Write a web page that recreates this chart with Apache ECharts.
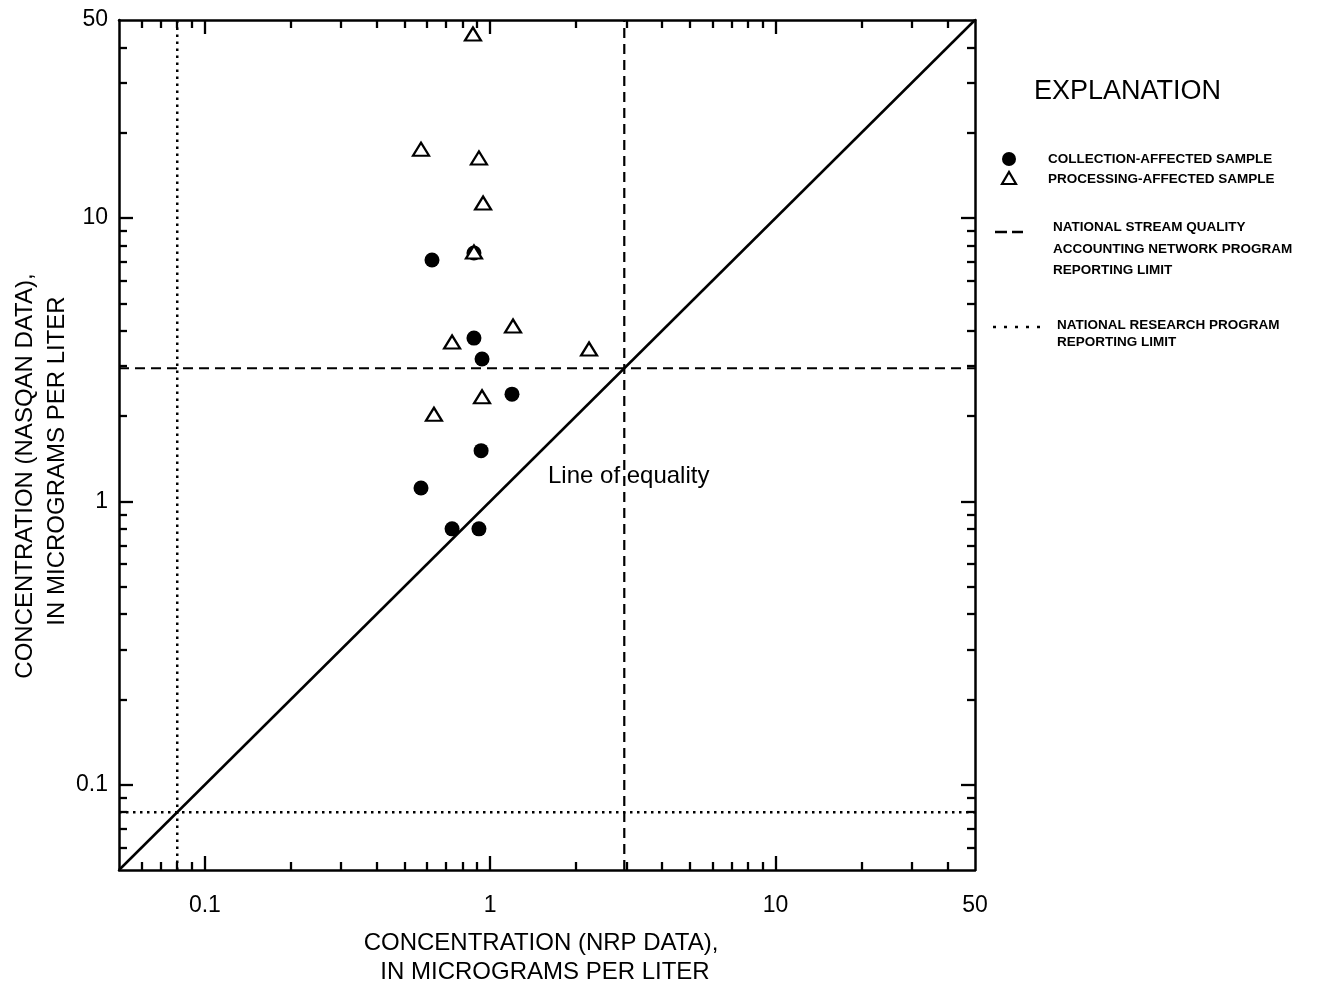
<!DOCTYPE html>
<html><head><meta charset="utf-8">
<script src="https://cdn.jsdelivr.net/npm/echarts@6/dist/echarts.min.js"></script>
<style>html,body{margin:0;padding:0;background:#fff}#c{width:1318px;height:991px}</style>
</head><body><div id="c"></div>
<script>
// Collection-affected samples (filled circles): NRP value (x), NASQAN value (y)
const collectionX = [0.625, 0.877, 0.877, 0.936, 1.192, 0.929, 0.572, 0.735, 0.913];
const collectionY = [7.11, 7.53, 3.77, 3.18, 2.39, 1.51, 1.115, 0.80, 0.80];
// Processing-affected samples (open triangles)
const processingX = [0.870, 0.572, 0.913, 0.944, 0.877, 1.202, 0.735, 2.22, 0.936, 0.635];
const processingY = [44.6, 17.5, 16.3, 11.3, 7.59, 4.16, 3.65, 3.45, 2.34, 2.03];
// Reporting limits
const nasqanLimit = 2.95;
const nrpLimit = 0.08;
// Axis range and ticks
const axisMin = 0.05;
const axisMax = 50;
const majorTicks = [0.1, 1, 10];
const minorTicks = [0.06, 0.07, 0.08, 0.09, 0.2, 0.3, 0.4, 0.5, 0.6, 0.7, 0.8, 0.9, 2, 3, 4, 5, 6, 7, 8, 9, 20, 30, 40];
const tickLabels = [0.1, 1, 10, 50];

const FONT = '"Liberation Sans", Arial, Helvetica, sans-serif';
const zip = (xs, ys) => xs.map((x, i) => [x, ys[i]]);

function mkAxis(pos, major, showLabel, isY) {
  return {
    type: 'log', logBase: 10, min: axisMin, max: axisMax, position: pos, gridIndex: 0,
    axisLine: { show: major, onZero: false, lineStyle: { color: '#000', width: 2.5 } },
    axisTick: { show: true, inside: true, length: major ? 14 : 8,
      customValues: major ? majorTicks : minorTicks,
      lineStyle: { color: '#000', width: 2.3 } },
    axisLabel: { show: showLabel, customValues: tickLabels,
      formatter: v => String(+Number(v).toPrecision(4)),
      fontSize: 23, fontFamily: FONT, color: '#000', margin: isY ? 11 : 24 },
    splitLine: { show: false }, minorTick: { show: false }
  };
}

const chart = echarts.init(document.getElementById('c'), null, { renderer: 'canvas' });
const option = {
  backgroundColor: '#fff',
  animation: false,
  grid: { left: 119, top: 20, width: 856, height: 850, containLabel: false },
  xAxis: [
    mkAxis('bottom', true, true, false),
    mkAxis('bottom', false, false, false),
    mkAxis('top', true, false, false),
    mkAxis('top', false, false, false)
  ],
  yAxis: [
    mkAxis('left', true, true, true),
    mkAxis('left', false, false, true),
    mkAxis('right', true, false, true),
    mkAxis('right', false, false, true)
  ],
  series: [
    { type: 'line', name: 'Line of equality', data: [[axisMin, axisMin], [axisMax, axisMax]],
      showSymbol: false, symbol: 'none', lineStyle: { color: '#000', width: 2.5 }, z: 2 },
    { type: 'line', name: 'NASQAN limit x', data: [[nasqanLimit, axisMin], [nasqanLimit, axisMax]],
      symbol: 'none', lineStyle: { color: '#000', width: 2.2, type: [10, 6] }, z: 1 },
    { type: 'line', name: 'NASQAN limit y', data: [[axisMin, nasqanLimit], [axisMax, nasqanLimit]],
      symbol: 'none', lineStyle: { color: '#000', width: 2.2, type: [10, 6] }, z: 1 },
    { type: 'line', name: 'NRP limit x', data: [[nrpLimit, axisMin], [nrpLimit, axisMax]],
      symbol: 'none', lineStyle: { color: '#000', width: 2.5, type: [2.5, 4.5] }, z: 1 },
    { type: 'line', name: 'NRP limit y', data: [[axisMin, nrpLimit], [axisMax, nrpLimit]],
      symbol: 'none', lineStyle: { color: '#000', width: 2.5, type: [2.5, 4.5] }, z: 1 },
    { type: 'scatter', name: 'COLLECTION-AFFECTED SAMPLE', data: zip(collectionX, collectionY),
      symbol: 'circle', symbolSize: 15, itemStyle: { color: '#000', opacity: 1 }, z: 3 },
    { type: 'scatter', name: 'PROCESSING-AFFECTED SAMPLE', data: zip(processingX, processingY),
      symbol: 'triangle', symbolSize: [16, 13],
      itemStyle: { color: '#fff', borderColor: '#000', borderWidth: 2.2, opacity: 1 }, z: 4 }
  ],
  graphic: [
    // axis titles
    { type: 'text', x: 541, y: 943, style: { text: 'CONCENTRATION (NRP DATA),', font: '24px ' + FONT, fill: '#000', align: 'center', verticalAlign: 'middle' } },
    { type: 'text', x: 545, y: 972, style: { text: 'IN MICROGRAMS PER LITER', font: '24px ' + FONT, fill: '#000', align: 'center', verticalAlign: 'middle' } },
    { type: 'text', x: 25, y: 476, rotation: Math.PI / 2, style: { text: 'CONCENTRATION (NASQAN DATA),', font: '24px ' + FONT, fill: '#000', align: 'center', verticalAlign: 'middle' } },
    { type: 'text', x: 57, y: 461, rotation: Math.PI / 2, style: { text: 'IN MICROGRAMS PER LITER', font: '24px ' + FONT, fill: '#000', align: 'center', verticalAlign: 'middle' } },
    // line label
    { type: 'text', x: 548, y: 476, style: { text: 'Line of equality', font: '24px ' + FONT, fill: '#000', align: 'left', verticalAlign: 'middle' } },
    // explanation
    { type: 'text', x: 1034, y: 92, style: { text: 'EXPLANATION', font: '27px ' + FONT, fill: '#000', align: 'left', verticalAlign: 'middle' } },
    { type: 'circle', shape: { cx: 1009, cy: 159, r: 7 }, style: { fill: '#000' } },
    { type: 'text', x: 1048, y: 159, style: { text: 'COLLECTION-AFFECTED SAMPLE', font: 'bold 13.5px ' + FONT, fill: '#000', align: 'left', verticalAlign: 'middle' } },
    { type: 'polygon', shape: { points: [[1002, 184], [1016, 184], [1009, 172]] }, style: { fill: '#fff', stroke: '#000', lineWidth: 2.2 } },
    { type: 'text', x: 1048, y: 179, style: { text: 'PROCESSING-AFFECTED SAMPLE', font: 'bold 13.5px ' + FONT, fill: '#000', align: 'left', verticalAlign: 'middle' } },
    { type: 'line', shape: { x1: 995, y1: 232, x2: 1023, y2: 232 }, style: { stroke: '#000', lineWidth: 2.5, lineDash: [12, 5] } },
    { type: 'text', x: 1053, y: 227, style: { text: 'NATIONAL STREAM QUALITY', font: 'bold 13.5px ' + FONT, fill: '#000', align: 'left', verticalAlign: 'middle' } },
    { type: 'text', x: 1053, y: 249, style: { text: 'ACCOUNTING NETWORK PROGRAM', font: 'bold 13.5px ' + FONT, fill: '#000', align: 'left', verticalAlign: 'middle' } },
    { type: 'text', x: 1053, y: 270, style: { text: 'REPORTING LIMIT', font: 'bold 13.5px ' + FONT, fill: '#000', align: 'left', verticalAlign: 'middle' } },
    { type: 'line', shape: { x1: 993, y1: 327, x2: 1040, y2: 327 }, style: { stroke: '#000', lineWidth: 2.5, lineDash: [3, 8] } },
    { type: 'text', x: 1057, y: 325, style: { text: 'NATIONAL RESEARCH PROGRAM', font: 'bold 13.5px ' + FONT, fill: '#000', align: 'left', verticalAlign: 'middle' } },
    { type: 'text', x: 1057, y: 342, style: { text: 'REPORTING LIMIT', font: 'bold 13.5px ' + FONT, fill: '#000', align: 'left', verticalAlign: 'middle' } }
  ]
};
chart.setOption(option);
</script>
</body></html>
